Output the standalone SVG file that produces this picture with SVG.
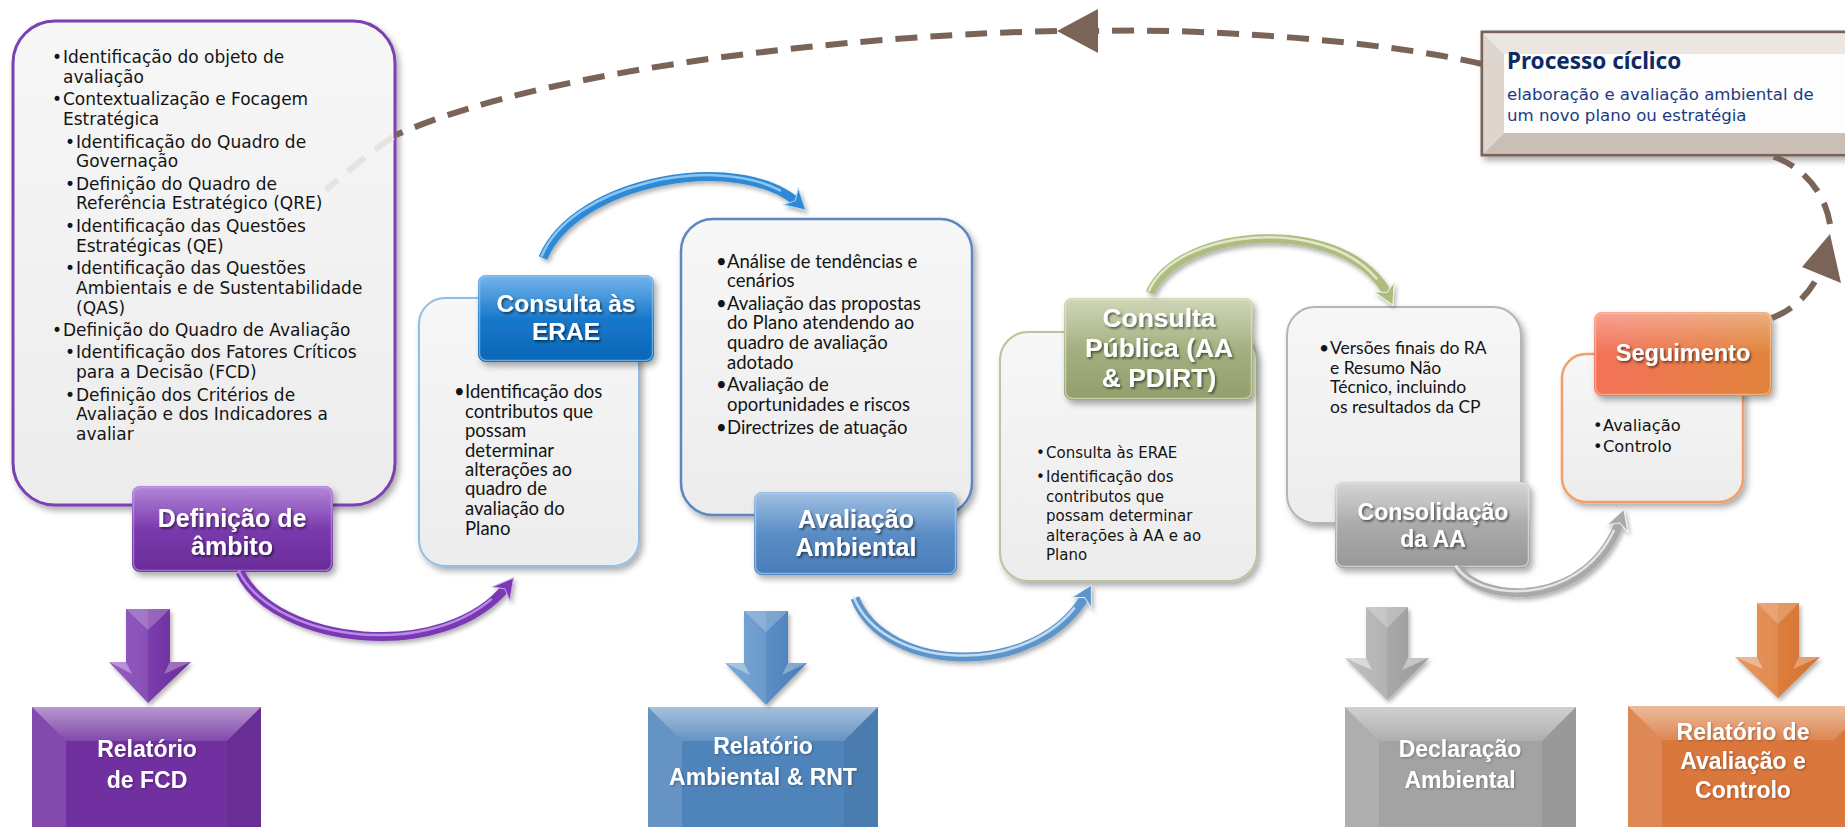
<svg xmlns="http://www.w3.org/2000/svg" width="1845" height="827" viewBox="0 0 1845 827">
<defs>
<style>
.pn{font-family:'DejaVu Sans','Noto Sans',sans-serif;font-size:17px;fill:#141414}
.pc{font-family:'DejaVu Sans','Noto Sans',sans-serif;font-size:15px;fill:#141414}
.ps{font-family:'DejaVu Sans','Noto Sans',sans-serif;font-size:16.3px;fill:#141414}
.cl{font-family:Lato,'Liberation Sans',sans-serif;font-size:18.5px;fill:#141414}
.cs{font-family:Lato,'Liberation Sans',sans-serif;font-size:17.5px;fill:#141414}
.lb{font-family:'Liberation Sans',Arial,sans-serif;font-weight:bold;fill:#fff;text-anchor:middle;filter:url(#ts)}
.rp{font-family:'Liberation Sans',Arial,sans-serif;font-weight:bold;font-size:23px;fill:#fff;text-anchor:middle;filter:url(#ts2)}
.panel{filter:url(#sh)}
.lab{filter:url(#sh)}
.gl{fill:url(#gloss)}
.dash{fill:none;stroke:#7a6458;stroke-width:6;stroke-dasharray:22 13}
.tube{fill:none;stroke-width:9;filter:url(#sh2)}
.hl{fill:none;stroke-width:2.5;stroke-opacity:.8}
.bvT{fill:url(#bevT)}
.bvL{fill:#fff;fill-opacity:.13}
.bvR{fill:#000;fill-opacity:.06}
</style>
<filter id="sh" x="-10%" y="-10%" width="125%" height="125%"><feDropShadow dx="3" dy="4" stdDeviation="3" flood-color="#000" flood-opacity=".33"/></filter>
<filter id="sh2" x="-10%" y="-20%" width="130%" height="150%"><feDropShadow dx="2" dy="3" stdDeviation="2" flood-color="#000" flood-opacity=".3"/></filter>
<filter id="ts" x="-10%" y="-20%" width="130%" height="150%"><feDropShadow dx="1.5" dy="1.8" stdDeviation="1.1" flood-color="#000" flood-opacity=".55"/></filter>
<filter id="ts2" x="-10%" y="-20%" width="130%" height="150%"><feDropShadow dx="1" dy="1" stdDeviation="1" flood-color="#000" flood-opacity=".3"/></filter>
<linearGradient id="gPanel" x1="0" y1="0" x2="0" y2="1"><stop offset="0" stop-color="#f7f7f7"/><stop offset="1" stop-color="#ececec"/></linearGradient>
<linearGradient id="gloss" x1="0" y1="0" x2="0" y2="1"><stop offset="0" stop-color="#fff" stop-opacity=".35"/><stop offset=".5" stop-color="#fff" stop-opacity="0"/></linearGradient>
<linearGradient id="bevT" x1="0" y1="0" x2="0" y2="1"><stop offset="0" stop-color="#fff" stop-opacity=".5"/><stop offset="1" stop-color="#fff" stop-opacity=".12"/></linearGradient>
<linearGradient id="gPur" x1="0" y1="0" x2="0" y2="1"><stop offset="0" stop-color="#8a47c2"/><stop offset="1" stop-color="#6a2c98"/></linearGradient>
<linearGradient id="gBlu" x1="0" y1="0" x2="0" y2="1"><stop offset="0" stop-color="#2a8ce0"/><stop offset="1" stop-color="#0865b6"/></linearGradient>
<linearGradient id="gStl" x1="0" y1="0" x2="0" y2="1"><stop offset="0" stop-color="#6b9dd2"/><stop offset="1" stop-color="#4a7cb8"/></linearGradient>
<linearGradient id="gOlv" x1="0" y1="0" x2="0" y2="1"><stop offset="0" stop-color="#b5c093"/><stop offset="1" stop-color="#929f6c"/></linearGradient>
<linearGradient id="gGry" x1="0" y1="0" x2="0" y2="1"><stop offset="0" stop-color="#bdbdbd"/><stop offset="1" stop-color="#989898"/></linearGradient>
<linearGradient id="gOrg" x1="0" y1="0" x2="1" y2="0"><stop offset="0" stop-color="#f4715a"/><stop offset="1" stop-color="#e0843a"/></linearGradient>
<linearGradient id="aPur" x1="0" y1="0" x2="1" y2="0"><stop offset="0" stop-color="#8a4bc0"/><stop offset="1" stop-color="#6a2c98"/></linearGradient>
<linearGradient id="aBlu" x1="0" y1="0" x2="1" y2="0"><stop offset="0" stop-color="#6a9fd4"/><stop offset="1" stop-color="#4a7db6"/></linearGradient>
<linearGradient id="aGry" x1="0" y1="0" x2="1" y2="0"><stop offset="0" stop-color="#b8b8b8"/><stop offset="1" stop-color="#999"/></linearGradient>
<linearGradient id="aOrg" x1="0" y1="0" x2="1" y2="0"><stop offset="0" stop-color="#e58a4a"/><stop offset="1" stop-color="#d4722f"/></linearGradient>
<marker id="mP" viewBox="-12 -12 24 24" refX="0" refY="0" markerWidth="24" markerHeight="24" markerUnits="userSpaceOnUse" orient="auto"><path d="M9,0 L-11,-11 L-5,0 L-11,11 Z" fill="#7a38b5" stroke="#c9a0ee" stroke-width="1"/></marker>
<marker id="mB" viewBox="-12 -12 24 24" refX="0" refY="0" markerWidth="24" markerHeight="24" markerUnits="userSpaceOnUse" orient="auto"><path d="M9,0 L-11,-11 L-5,0 L-11,11 Z" fill="#2d8ad6" stroke="#a6d4fa" stroke-width="1"/></marker>
<marker id="mS" viewBox="-12 -12 24 24" refX="0" refY="0" markerWidth="24" markerHeight="24" markerUnits="userSpaceOnUse" orient="auto"><path d="M9,0 L-11,-11 L-5,0 L-11,11 Z" fill="#5d95cb" stroke="#d8ecff" stroke-width="1"/></marker>
<marker id="mO" viewBox="-12 -12 24 24" refX="0" refY="0" markerWidth="24" markerHeight="24" markerUnits="userSpaceOnUse" orient="auto"><path d="M9,0 L-11,-11 L-5,0 L-11,11 Z" fill="#aebc80" stroke="#eef3dc" stroke-width="1"/></marker>
<marker id="mG" viewBox="-12 -12 24 24" refX="0" refY="0" markerWidth="24" markerHeight="24" markerUnits="userSpaceOnUse" orient="auto"><path d="M9,0 L-11,-11 L-5,0 L-11,11 Z" fill="#a9a9a9" stroke="#f2f2f2" stroke-width="1"/></marker>
</defs>
<rect width="1845" height="827" fill="#fff"/>

<g id="definicao">
<rect class="panel" x="13" y="21" width="382" height="484" rx="42" fill="url(#gPanel)" stroke="#7b3fb3" stroke-width="3"/>
<g class="pn">
<text x="52" y="63">•</text><text x="63" y="63">Identificação do objeto de</text>
<text x="63" y="83">avaliação</text>
<text x="52" y="105">•</text><text x="63" y="105">Contextualização e Focagem</text>
<text x="63" y="125">Estratégica</text>
<text x="65" y="148">•</text><text x="76" y="148">Identificação do Quadro de</text>
<text x="76" y="167">Governação</text>
<text x="65" y="190">•</text><text x="76" y="190">Definição do Quadro de</text>
<text x="76" y="209">Referência Estratégico (QRE)</text>
<text x="65" y="232">•</text><text x="76" y="232">Identificação das Questões</text>
<text x="76" y="252">Estratégicas (QE)</text>
<text x="65" y="274">•</text><text x="76" y="274">Identificação das Questões</text>
<text x="76" y="294">Ambientais e de Sustentabilidade</text>
<text x="76" y="314">(QAS)</text>
<text x="52" y="336">•</text><text x="63" y="336">Definição do Quadro de Avaliação</text>
<text x="65" y="358">•</text><text x="76" y="358">Identificação dos Fatores Críticos</text>
<text x="76" y="378">para a Decisão (FCD)</text>
<text x="65" y="401">•</text><text x="76" y="401">Definição dos Critérios de</text>
<text x="76" y="420">Avaliação e dos Indicadores a</text>
<text x="76" y="440">avaliar</text>
</g>
<rect class="lab" x="132" y="486" width="201" height="86" rx="8" fill="url(#gPur)"/>
<rect class="gl" x="132" y="486" width="201" height="86" rx="8"/>
<rect x="133.5" y="487.5" width="198" height="83" rx="7" fill="none" stroke="#c79ff0" stroke-opacity=".6" stroke-width="1.5"/>
<text class="lb" x="232" y="527" font-size="25">Definição de</text>
<text class="lb" x="232" y="555" font-size="25">âmbito</text>
</g>

<g id="consulta-erae">
<rect class="panel" x="419" y="298" width="220" height="268" rx="26" fill="url(#gPanel)" stroke="#93bde3" stroke-width="2"/>
<g class="cl">
<text x="454" y="398">•</text><text x="465" y="398">Identificação dos</text>
<text x="465" y="418">contributos que</text>
<text x="465" y="437">possam</text>
<text x="465" y="457">determinar</text>
<text x="465" y="476">alterações ao</text>
<text x="465" y="495">quadro de</text>
<text x="465" y="515">avaliação do</text>
<text x="465" y="535">Plano</text>
</g>
<rect class="lab" x="478" y="275" width="176" height="87" rx="8" fill="url(#gBlu)"/>
<rect class="gl" x="478" y="275" width="176" height="87" rx="8"/>
<rect x="479.5" y="276.5" width="173" height="84" rx="7" fill="none" stroke="#8cc6f5" stroke-opacity=".7" stroke-width="1.5"/>
<text class="lb" x="566" y="312" font-size="24.5">Consulta às</text>
<text class="lb" x="566" y="340" font-size="24.5">ERAE</text>
</g>

<g id="avaliacao-ambiental">
<rect class="panel" x="681" y="219" width="291" height="296" rx="32" fill="url(#gPanel)" stroke="#5b87bf" stroke-width="2.5"/>
<g class="cl">
<text x="716" y="268">•</text><text x="727" y="268">Análise de tendências e</text>
<text x="727" y="287">cenários</text>
<text x="716" y="310">•</text><text x="727" y="310">Avaliação das propostas</text>
<text x="727" y="329">do Plano atendendo ao</text>
<text x="727" y="349">quadro de avaliação</text>
<text x="727" y="369">adotado</text>
<text x="716" y="391">•</text><text x="727" y="391">Avaliação de</text>
<text x="727" y="411">oportunidades e riscos</text>
<text x="716" y="434">•</text><text x="727" y="434">Directrizes de atuação</text>
</g>
<rect class="lab" x="754" y="492" width="203" height="83" rx="8" fill="url(#gStl)"/>
<rect class="gl" x="754" y="492" width="203" height="83" rx="8"/>
<rect x="755.5" y="493.5" width="200" height="80" rx="7" fill="none" stroke="#a9cdf2" stroke-opacity=".7" stroke-width="1.5"/>
<text class="lb" x="856" y="528" font-size="25">Avaliação</text>
<text class="lb" x="856" y="556" font-size="25">Ambiental</text>
</g>

<g id="consulta-publica">
<rect class="panel" x="1000" y="332" width="257" height="249" rx="28" fill="url(#gPanel)" stroke="#b9c59a" stroke-width="2"/>
<g class="pc">
<text x="1036" y="458">•</text><text x="1046" y="458">Consulta às ERAE</text>
<text x="1036" y="482">•</text><text x="1046" y="482">Identificação dos</text>
<text x="1046" y="502">contributos que</text>
<text x="1046" y="521">possam determinar</text>
<text x="1046" y="541">alterações à AA e ao</text>
<text x="1046" y="560">Plano</text>
</g>
<rect class="lab" x="1064" y="298" width="189" height="102" rx="8" fill="url(#gOlv)"/>
<rect class="gl" x="1064" y="298" width="189" height="102" rx="8"/>
<rect x="1065.5" y="299.5" width="186" height="99" rx="7" fill="none" stroke="#dfe6c6" stroke-opacity=".7" stroke-width="1.5"/>
<text class="lb" x="1159" y="327" font-size="26.4">Consulta</text>
<text class="lb" x="1159" y="357" font-size="26.4">Pública (AA</text>
<text class="lb" x="1159" y="387" font-size="26.4">&amp; PDIRT)</text>
</g>

<g id="consolidacao">
<rect class="panel" x="1287" y="307" width="234" height="216" rx="28" fill="url(#gPanel)" stroke="#b5b5b5" stroke-width="2"/>
<g class="cs">
<text x="1319" y="354">•</text><text x="1330" y="354">Versões finais do RA</text>
<text x="1330" y="374">e Resumo Não</text>
<text x="1330" y="393">Técnico, incluindo</text>
<text x="1330" y="413">os resultados da CP</text>
</g>
<rect class="lab" x="1335" y="482" width="195" height="86" rx="8" fill="url(#gGry)"/>
<rect class="gl" x="1335" y="482" width="195" height="86" rx="8"/>
<rect x="1336.5" y="483.5" width="192" height="83" rx="7" fill="none" stroke="#e2e2e2" stroke-opacity=".7" stroke-width="1.5"/>
<text class="lb" x="1433" y="520" font-size="23">Consolidação</text>
<text class="lb" x="1433" y="547" font-size="23">da AA</text>
</g>

<g id="seguimento">
<rect class="panel" x="1562" y="354" width="181" height="148" rx="24" fill="url(#gPanel)" stroke="#f0a068" stroke-width="2.5"/>
<g class="ps">
<text x="1593" y="431">•</text><text x="1603" y="431">Avaliação</text>
<text x="1593" y="452">•</text><text x="1603" y="452">Controlo</text>
</g>
<rect class="lab" x="1594" y="312" width="178" height="84" rx="8" fill="url(#gOrg)"/>
<rect class="gl" x="1594" y="312" width="178" height="84" rx="8"/>
<rect x="1595.5" y="313.5" width="175" height="81" rx="7" fill="none" stroke="#fbc09a" stroke-opacity=".7" stroke-width="1.5"/>
<text class="lb" x="1683" y="361" font-size="23.5">Seguimento</text>
</g>

<g id="processo-ciclico">
<rect class="panel" x="1482" y="32" width="375" height="123" fill="#fff" stroke="#7a6458" stroke-width="3"/>
<polygon points="1483.5,33.5 1855,33.5 1855,54 1504,54" fill="#ebe6e1"/>
<polygon points="1483.5,33.5 1504,54 1504,133 1483.5,153.5" fill="#ddd5ce"/>
<polygon points="1483.5,153.5 1504,133 1855,133 1855,153.5" fill="#cbbfb5"/>
<rect x="1504" y="54" width="351" height="79" fill="#fdfdfd"/>
<text x="1507" y="69" font-family="'Noto Sans','DejaVu Sans',sans-serif" font-weight="bold" font-size="22.5" fill="#0c2a66">Processo cíclico</text>
<text x="1507" y="100" font-family="'DejaVu Sans','Noto Sans',sans-serif" font-size="16.6" fill="#1c3a84">elaboração e avaliação ambiental de</text>
<text x="1507" y="121" font-family="'DejaVu Sans','Noto Sans',sans-serif" font-size="16.6" fill="#1c3a84">um novo plano ou estratégia</text>
</g>

<g id="relatorio-fcd">
<rect x="32" y="707" width="229" height="140" fill="#7030a0"/>
<polygon class="bvT" points="32,707 261,707 227,741 66,741"/>
<polygon class="bvL" points="32,707 66,741 66,847 32,847"/>
<polygon class="bvR" points="261,707 227,741 227,847 261,847"/>
<text class="rp" x="147" y="757">Relatório</text>
<text class="rp" x="147" y="788">de FCD</text>
</g>

<g id="relatorio-ambiental">
<rect x="648" y="707" width="230" height="140" fill="#4f84bb"/>
<polygon class="bvT" points="648,707 878,707 844,741 682,741"/>
<polygon class="bvL" points="648,707 682,741 682,847 648,847"/>
<polygon class="bvR" points="878,707 844,741 844,847 878,847"/>
<text class="rp" x="763" y="754">Relatório</text>
<text class="rp" x="763" y="785">Ambiental &amp; RNT</text>
</g>

<g id="declaracao-ambiental">
<rect x="1345" y="707" width="231" height="140" fill="#a3a3a3"/>
<polygon class="bvT" points="1345,707 1576,707 1542,741 1379,741"/>
<polygon class="bvL" points="1345,707 1379,741 1379,847 1345,847"/>
<polygon class="bvR" points="1576,707 1542,741 1542,847 1576,847"/>
<text class="rp" x="1460" y="757">Declaração</text>
<text class="rp" x="1460" y="788">Ambiental</text>
</g>

<g id="relatorio-avaliacao-controlo">
<rect x="1628" y="706" width="240" height="140" fill="#d9773c"/>
<polygon class="bvT" points="1628,706 1868,706 1834,740 1662,740"/>
<polygon class="bvL" points="1628,706 1662,740 1662,846 1628,846"/>
<text class="rp" x="1743" y="740">Relatório de</text>
<text class="rp" x="1743" y="769">Avaliação e</text>
<text class="rp" x="1743" y="798">Controlo</text>
</g>

<g id="connectors">
<path class="dash" d="M1482,64 C1380,40 1200,28 1098,31"/>
<path class="dash" d="M1057,31 C890,34 560,62 396,135"/>
<path d="M393,137 Q362,158 326,190" fill="none" stroke="#e6e3e0" stroke-width="6" stroke-dasharray="22 13"/>
<polygon points="1057,31 1098,9 1098,53" fill="#7a6458"/>
<path class="dash" d="M1772,318 A85,85 0 0,0 1818,276"/>
<path class="dash" d="M1830,224 A85,85 0 0,0 1768,155"/>
<polygon points="1830,234 1802,267 1841,283" fill="#7a6458"/>

<path class="tube" d="M240,572 C275,645 445,665 508,585" stroke="#7a38b5" marker-end="url(#mP)"/>
<path class="hl" d="M240,572 C275,645 445,665 508,585" stroke="#c9a0ee" pathLength="100" stroke-dasharray="93 100" transform="translate(-1.5,-1.5)"/>
<path class="tube" d="M543,258 C575,180 740,150 799,204" stroke="#2d8ad6" marker-end="url(#mB)"/>
<path class="hl" d="M543,258 C575,180 740,150 799,204" stroke="#a6d4fa" pathLength="100" stroke-dasharray="93 100" transform="translate(-1.5,-1.5)"/>
<path class="tube" d="M855,598 C885,675 1040,680 1087,593" stroke="#5d95cb" marker-end="url(#mS)"/>
<path class="hl" d="M855,598 C885,675 1040,680 1087,593" stroke="#d8ecff" pathLength="100" stroke-dasharray="93 100" transform="translate(-1.5,-1.5)"/>
<path class="tube" d="M1150,293 C1180,225 1350,215 1389,297" stroke="#aebc80" marker-end="url(#mO)"/>
<path class="hl" d="M1150,293 C1180,225 1350,215 1389,297" stroke="#eef3dc" pathLength="100" stroke-dasharray="93 100" transform="translate(-1.5,-1.5)"/>
<path class="tube" d="M1457,567 C1480,605 1590,610 1621,518" stroke="#a9a9a9" marker-end="url(#mG)"/>
<path class="hl" d="M1457,567 C1480,605 1590,610 1621,518" stroke="#f2f2f2" pathLength="100" stroke-dasharray="93 100" transform="translate(-1.5,-1.5)"/>

<g filter="url(#sh2)">
<polygon points="126,609 170,609 170,662 191,662 148,703 109,662 126,662" fill="url(#aPur)"/>
<polygon points="126,609 148,609 148,703 109,662 126,662" fill="#fff" fill-opacity=".1"/>
<polygon points="126,609 170,609 148,630" fill="#fff" fill-opacity=".22"/>
<polygon points="109,662 126,662 132,674" fill="#fff" fill-opacity=".35"/>
<polygon points="191,662 170,662 164,674" fill="#fff" fill-opacity=".3"/>
</g>
<g filter="url(#sh2)">
<polygon points="744,611 788,611 788,663 807,663 766,705 725,663 744,663" fill="url(#aBlu)"/>
<polygon points="744,611 766,611 766,705 725,663 744,663" fill="#fff" fill-opacity=".1"/>
<polygon points="744,611 788,611 766,632" fill="#fff" fill-opacity=".22"/>
<polygon points="725,663 744,663 750,675" fill="#fff" fill-opacity=".35"/>
<polygon points="807,663 788,663 782,675" fill="#fff" fill-opacity=".3"/>
</g>
<g filter="url(#sh2)">
<polygon points="1366,607 1408,607 1408,658 1429,658 1387,700 1345,658 1366,658" fill="url(#aGry)"/>
<polygon points="1366,607 1387,607 1387,700 1345,658 1366,658" fill="#fff" fill-opacity=".12"/>
<polygon points="1366,607 1408,607 1387,628" fill="#fff" fill-opacity=".25"/>
<polygon points="1345,658 1366,658 1372,670" fill="#fff" fill-opacity=".45"/>
<polygon points="1429,658 1408,658 1402,670" fill="#fff" fill-opacity=".4"/>
</g>
<g filter="url(#sh2)">
<polygon points="1757,603 1799,603 1799,657 1820,657 1778,698 1735,657 1757,657" fill="url(#aOrg)"/>
<polygon points="1757,603 1778,603 1778,698 1735,657 1757,657" fill="#fff" fill-opacity=".1"/>
<polygon points="1757,603 1799,603 1778,624" fill="#fff" fill-opacity=".22"/>
<polygon points="1735,657 1757,657 1763,669" fill="#fff" fill-opacity=".35"/>
<polygon points="1820,657 1799,657 1793,669" fill="#fff" fill-opacity=".3"/>
</g>
</g>
</svg>
